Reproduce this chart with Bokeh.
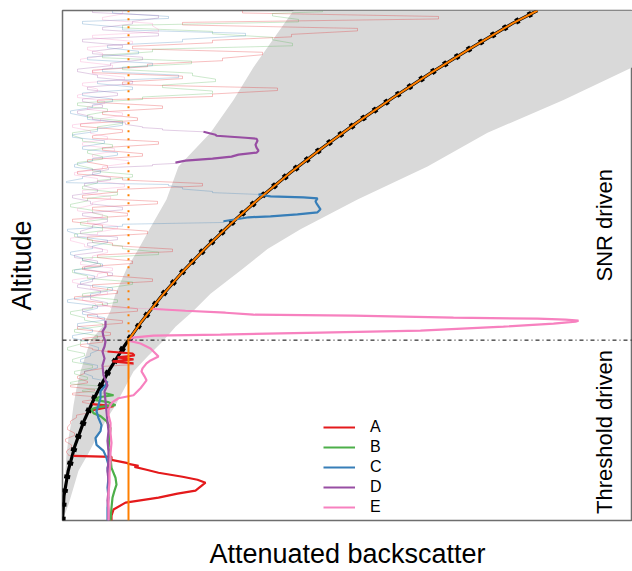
import numpy as np
from bokeh.plotting import figure
from bokeh.models import Range1d, FixedTicker, Label, Legend, LegendItem, Span
from bokeh.embed import file_html
from bokeh.resources import INLINE

# ---------------- data (arbitrary units: altitude bins, backscatter a.u.) ----------------
# expected molecular (clear-sky) attenuated backscatter
alt_mol = [0, 25, 50, 75, 100, 125, 150, 175, 200, 225, 250, 275, 300, 325, 350, 375,
           400, 425, 450, 475, 500, 513]
bsc_mol = [0, 1.5, 5.7, 12.4, 21.4, 32.7, 46, 61.5, 79, 98.5, 120, 144, 170, 198, 228, 260,
           294, 330, 368, 408, 450, 475]
threshold = 66

# noise envelope
alt_band = [0, 16, 33, 50, 66, 83, 100, 116, 133, 150, 166, 181, 195, 211, 228, 253, 273,
            293, 323, 356, 390, 423, 456, 483, 513]
band_lo = [0, 1, 2, 3, 4, 6, 9, 11, 14, 18, 23, 28, 40, 48, 53, 64, 76, 87, 104, 116, 148,
           171, 191, 210, 231]
band_hi = [0, 6, 11, 16, 25, 34, 43, 53, 62, 71, 86, 101, 113, 131, 148, 180, 205, 238, 295,
           365, 425, 501, 570, 628, 686]

# profile A
alt_A = [0, 5, 11, 18, 23, 27, 30, 34, 38, 41, 44, 48, 51, 54, 55, 57, 58, 61, 64, 65, 66,
         70, 76, 82, 88, 94, 100, 106, 111, 115, 117, 120, 124, 128, 132, 136, 140, 145, 150,
         155, 158, 160, 162, 164, 166, 168, 170, 173, 177, 181,
         183, 189, 195, 201, 207, 213, 219, 225, 231, 237, 243, 249, 255, 261, 267, 273, 279,
         285, 291, 297, 303, 309, 315, 321, 327, 333, 339, 345, 351, 357, 363, 369, 375, 381,
         387, 393, 399, 405, 411, 417, 423, 429, 435, 441, 447, 453, 459, 465, 471, 477, 483,
         489, 495, 501, 507, 513]
bsc_A = [49, 49, 51, 63, 96, 115, 133, 138, 143, 135, 120, 96, 84, 72, 76, 66, 64, 49, 49, 11, 6,
         4, 9, 3, 12, 5, 8, 14, 30, 51, 30, 20, 38, 10, 32, 8, 25, 15, 22,
         40, 71, 50, 71, 55, 72, 70, 45, 30, 18, 40,
         20, 48, 15, 60, 25, 75, 40, 12, 55, 30, 90, 45, 20, 70, 35, 110, 50,
         25, 85, 40, 10, 65, 30, 95, 20, 55, 140, 60, 15, 45, 25, 80, 40, 96,
         30, 60, 18, 75, 40, 100, 35, 150, 215, 60, 120, 30, 85, 160, 200, 70, 150,
         229, 295, 120, 376, 180]
det_A = [(0, 65), (111, 117), (157, 170)]

# profile B
alt_B = [0, 13, 23, 30, 36, 43, 53, 63, 73, 83, 93, 100, 105, 108, 112, 114, 116, 119, 121,
         124, 126, 128, 131, 135, 139, 144, 150, 156, 162, 168, 174, 180,
         186, 192, 198, 204, 210, 216, 222, 228, 234, 240, 246, 252, 258, 264, 270, 276, 282,
         288, 294, 300, 306, 312, 318, 324, 330, 336, 342, 348, 354, 360, 366, 372, 378, 384,
         390, 396, 402, 408, 414, 420, 426, 432, 438, 444, 450, 456, 462, 468, 474, 480, 486,
         492, 498, 504, 510, 513]
bsc_B = [48, 49, 50, 52, 54, 53, 49, 48, 46, 47, 48, 44, 38, 31, 29, 36, 53, 46, 33,
         36, 51, 43, 20, 40, 8, 25, 12, 30, 10, 22, 5, 18,
         35, 12, 40, 22, 8, 30, 55, 20, 45, 70, 25, 10, 38, 20, 96, 60, 30,
         12, 40, 18, 45, 30, 8, 25, 55, 20, 35, 70, 30, 15, 40, 25, 50, 20,
         10, 35, 60, 25, 45, 15, 80, 150, 100, 153, 130, 60, 129, 40, 90, 230, 210,
         150, 60, 236, 210, 260]
det_B = [(0, 128)]

# profile C
alt_C = [0, 13, 23, 33, 43, 53, 56, 63, 70, 76, 83, 90, 96, 103, 110, 116, 123, 130, 136, 140,
         145, 150, 156, 162, 168, 174, 180, 186, 192, 198, 204, 210, 216, 222, 228, 234, 240,
         246, 252, 258, 264, 270, 276, 282, 288, 293, 298, 301, 304, 305, 306, 308, 310, 313,
         316, 319, 321, 324, 325, 326, 328, 331, 335, 338, 341, 346, 352, 358, 364, 370, 376,
         382, 388, 394, 400, 406, 412, 418, 424, 430, 436, 442, 448, 454, 460, 466, 472, 478,
         484, 490, 496, 502, 507, 513]
bsc_C = [45, 45, 46, 45, 46, 45, 46, 44, 41, 34, 33, 38, 39, 36, 34, 36, 38, 38, 43, 45,
         30, 22, 35, 18, 28, 36, 25, 10, 30, 15, 42, 20, 35, 5, 28, 50, 18,
         32, 12, 40, 20, 8, 30, 45, 15, 5, 60, 161, 180, 186, 208, 235, 255, 258,
         256, 254, 253, 255, 241, 208, 196, 150, 120, 106, 4, 20, 38, 12, 30, 55, 20,
         42, 10, 35, 60, 25, 8, 30, 50, 20, 70, 35, 116, 40, 90, 25, 76, 45,
         120, 183, 60, 20, 106, 50]
det_C = [(0, 140), (300, 328)]

# profile D
alt_D = [0, 10, 20, 30, 40, 50, 60, 70, 80, 90, 100, 110, 120, 130, 136, 146, 156, 163, 170,
         175, 180, 185, 190, 195, 201, 207, 213, 219, 225, 231, 237, 243, 249, 255, 261, 267,
         273, 279, 285, 291, 297, 303, 309, 315, 321, 327, 333, 339, 345, 350, 355, 358, 360,
         362, 364, 366, 368, 370, 372, 375, 378, 382, 384, 385, 387, 388, 391, 394, 396, 400,
         406, 412, 418, 424, 430, 436, 442, 448, 454, 460, 466, 472, 478, 484, 490, 496, 502,
         508, 513]
bsc_D = [46, 46, 45, 46, 46, 45, 46, 46, 45, 46, 45, 44, 43, 42, 45, 41, 40, 42, 40,
         42, 43, 41, 40, 43, 43, 35, 20, 45, 28, 38, 15, 30, 50, 22, 35, 12,
         40, 25, 55, 18, 30, 45, 20, 60, 28, 10, 35, 22, 48, 30, 46, 90, 113,
         123, 150, 169, 176, 194, 196, 194, 193, 195, 194, 183, 154, 153, 141, 100, 80, 63,
         30, 15, 40, 20, 55, 25, 70, 35, 15, 48, 80, 30, 60, 20, 96, 40, 70,
         96, 30]
det_D = [(0, 201), (360, 391)]

# profile E
alt_E = [0, 8, 18, 28, 38, 48, 58, 68, 78, 88, 98, 106, 111, 116, 119, 123, 126, 129, 133,
         137, 141, 145, 150, 153, 158, 161, 165, 168, 173, 178, 181, 184, 186, 187, 189, 191,
         195, 198, 200, 201, 202, 203, 204, 206, 207, 209, 211, 213, 215, 218, 224, 230, 236,
         242, 248, 254, 260, 266, 272, 278, 284, 290, 296, 302, 308, 314, 320, 326, 332, 338,
         344, 350, 356, 362, 368, 374, 380, 386, 392, 398, 404, 410, 416, 422, 428, 434, 440,
         446, 452, 458, 464, 470, 476, 482, 488, 494, 500, 506, 513]
bsc_E = [46, 46, 46, 46, 47, 47, 48, 48, 49, 48, 48, 46, 46, 48, 50, 56, 71, 74, 78,
         81, 84, 82, 79, 80, 84, 88, 96, 93, 88, 78, 66, 70, 91, 158, 258, 358,
         441, 491, 513, 516, 503, 475, 391, 291, 191, 163, 123, 88, 48, 33, 20, 45, 28,
         10, 35, 50, 18, 30, 45, 22, 8, 35, 55, 25, 40, 15, 30, 48, 20, 62,
         35, 12, 40, 66, 30, 52, 20, 45, 28, 10, 38, 60, 25, 42, 15, 35, 20,
         62, 30, 50, 18, 40, 25, 70, 30, 96, 90, 40, 60]
det_E = [(0, 213)]

names = ["A", "B", "C", "D", "E"]
colors = ["#E41A1C", "#4DAF4A", "#377EB8", "#984EA3", "#F781BF"]
profiles = [(alt_A, bsc_A, det_A), (alt_B, bsc_B, det_B), (alt_C, bsc_C, det_C),
            (alt_D, bsc_D, det_D), (alt_E, bsc_E, det_E)]

FONT = "Liberation Sans"


def in_det(a, det):
    return any(lo <= a <= hi for lo, hi in det)


def faint_path(alt, bsc, det):
    """Range-gate (step-like) rendering of the noisy, undetected parts of a profile."""
    xs, ys = [bsc[0]], [alt[0]]
    for i in range(1, len(alt)):
        if in_det(alt[i - 1], det) and in_det(alt[i], det):
            xs.append(bsc[i]); ys.append(alt[i])
        else:
            gap = alt[i] - alt[i - 1]
            ys += [alt[i - 1] + min(3.5, gap * 0.6), alt[i]]
            xs += [bsc[i], bsc[i]]
    return xs, ys


p = figure(width=632, height=571, x_range=Range1d(0, 570), y_range=Range1d(0, 513),
           output_backend="svg", toolbar_location=None,
           min_border_left=62, min_border_right=0, min_border_top=10, min_border_bottom=48)
p.grid.visible = False
p.outline_line_color = "#6e6e6e"
p.outline_line_width = 1.5
p.background_fill_color = "white"
p.border_fill_color = "white"

for ax in (p.xaxis[0], p.yaxis[0]):
    ax.ticker = FixedTicker(ticks=[])
    ax.axis_line_color = None
    ax.major_tick_line_color = None
    ax.minor_tick_line_color = None
    ax.major_tick_out = 0
    ax.major_tick_in = 0
    ax.minor_tick_out = 0
    ax.major_label_standoff = 0
    ax.major_label_text_font_size = "0px"
    ax.axis_label_text_font = FONT
    ax.axis_label_text_font_size = "27px"
    ax.axis_label_text_font_style = "normal"
    ax.axis_label_text_color = "black"
p.xaxis.axis_label = "Attenuated backscatter"
p.yaxis.axis_label = "Altitude"
p.xaxis.axis_label_standoff = 18
p.yaxis.axis_label_standoff = 26

# noise envelope
p.harea(x1=band_lo, x2=band_hi, y=alt_band, fill_color="#D9D9D9")

# faint full profiles
for (alt, bsc, det), c in zip(profiles, colors):
    fx, fy = faint_path(alt, bsc, det)
    p.line(fx, fy, line_color=c, line_alpha=0.28, line_width=1)

# observed signal (black) following the molecular curve
p.line(bsc_mol, alt_mol, line_color="black", line_width=3.2)
p.line(bsc_mol, alt_mol, line_color="black", line_width=6, line_dash="4 10")

# bold (detected) segments
bold_renderers = []
for (alt, bsc, det), c in zip(profiles, colors):
    a = np.array(alt)
    b = np.array(bsc)
    xs, ys = [], []
    for lo, hi in det:
        m = (a >= lo) & (a <= hi)
        xs.append(list(b[m]))
        ys.append(list(a[m]))
    r = p.multi_line(xs, ys, line_color=c, line_width=2.2)
    bold_renderers.append(r)

# threshold / orange detection limit
alt_cross = float(np.interp(threshold, bsc_mol, alt_mol))
am = np.array(alt_mol, dtype=float)
bm = np.array(bsc_mol, dtype=float)
upper = am > alt_cross
ox = [threshold, threshold] + list(bm[upper])
oy = [0, alt_cross] + list(am[upper])
p.line([threshold, threshold], [alt_cross, 513], line_color="#FF7F00", line_width=2,
       line_dash="2 6")
p.line(ox, oy, line_color="#FF7F00", line_width=2)

p.add_layout(Span(location=alt_cross, dimension="width", line_color="black",
                  line_width=1, line_dash="4 3 1 3"))

p.add_layout(Label(x=542, y=297, text="SNR driven", angle=np.pi / 2, text_align="center",
                   text_baseline="middle", text_font=FONT, text_font_size="22px",
                   text_color="black"))
p.add_layout(Label(x=542, y=89, text="Threshold driven", angle=np.pi / 2, text_align="center",
                   text_baseline="middle", text_font=FONT, text_font_size="22px",
                   text_color="black"))

legend = Legend(items=[LegendItem(label=n, renderers=[r]) for n, r in zip(names, bold_renderers)],
                location=(261, 3), padding=0, margin=0, spacing=0, glyph_width=32,
                glyph_height=20, label_height=20, label_standoff=15,
                label_text_font=FONT, label_text_font_size="16px", label_text_color="black",
                border_line_color=None, background_fill_alpha=0)
p.add_layout(legend)

open("out.html", "w").write(file_html(p, INLINE))
